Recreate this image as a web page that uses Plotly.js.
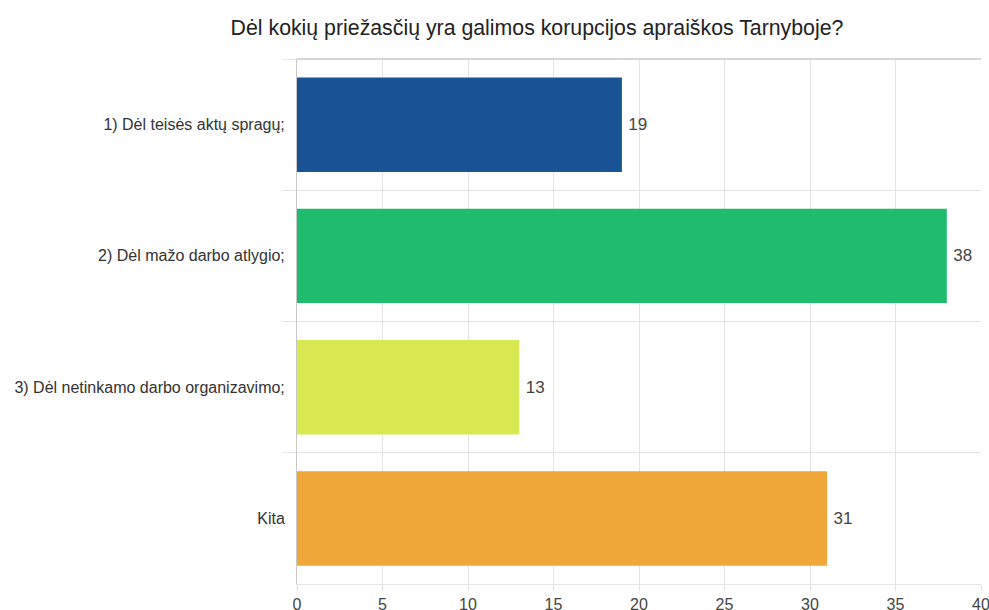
<!DOCTYPE html>
<html>
<head>
<meta charset="utf-8">
<script src="https://cdn.plot.ly/plotly-3.0.1.min.js"></script>
<style>html,body{margin:0;padding:0;background:#fff;}#chart{width:989px;height:610px;}</style>
</head>
<body>
<div id="chart"></div>
<script>
const chartTitle = "Dėl kokių priežasčių yra galimos korupcijos apraiškos Tarnyboje?";
const categories = [
  "1) Dėl teisės aktų spragų;",
  "2) Dėl mažo darbo atlygio;",
  "3) Dėl netinkamo darbo organizavimo;",
  "Kita"
];
const values = [19, 38, 13, 31];
const barColors = ["#1a5393", "#1fbb6f", "#d8e850", "#f0a73a"];
const xTicks = [0, 5, 10, 15, 20, 25, 30, 35, 40];

const FONT = "Arial, Liberation Sans, sans-serif";

const trace = {
  type: "bar",
  orientation: "h",
  y: categories,
  x: values,
  text: values.map(v => "\u2009" + v),
  textposition: "outside",
  cliponaxis: false,
  textfont: {family: FONT, size: 17, color: "#444"},
  marker: {color: barColors, line: {width: 0}},
  hoverinfo: "x+y"
};

const layout = {
  width: 989,
  height: 610,
  margin: {l: 297, r: 8, t: 59, b: 26},
  paper_bgcolor: "#fff",
  plot_bgcolor: "#fff",
  font: {family: FONT, color: "#333"},
  title: {
    text: chartTitle,
    font: {size: 21.3, color: "#222", family: FONT},
    x: 537/989, xanchor: "center", xref: "container",
    y: 1 - 28/610, yanchor: "middle", yref: "container"
  },
  bargap: 0.28,
  showlegend: false,
  xaxis: {
    range: [0, 40],
    tickvals: xTicks,
    ticktext: xTicks.map(String),
    showgrid: true,
    gridcolor: "#e4e4e4",
    gridwidth: 1,
    zeroline: false,
    showline: true,
    linecolor: "#e4e4e4",
    ticks: "outside",
    ticklen: 6,
    tickcolor: "#e4e4e4",
    ticklabeloverflow: "allow",
    tickfont: {size: 16, color: "#444"},
    fixedrange: true
  },
  yaxis: {
    type: "category",
    autorange: "reversed",
    tickson: "boundaries",
    showgrid: true,
    gridcolor: "#e4e4e4",
    gridwidth: 1,
    showline: true,
    linecolor: "#c8c8c8",
    mirror: false,
    ticks: "outside",
    ticklen: 14,
    tickcolor: "#e4e4e4",
    ticklabelstandoff: 8,
    tickfont: {size: 16, color: "#333"},
    fixedrange: true
  },
  shapes: [{
    type: "line", xref: "paper", yref: "paper",
    x0: 0, x1: 1, y0: 1, y1: 1,
    line: {color: "#d6d6d6", width: 2}
  }]
};

Plotly.newPlot("chart", [trace], layout, {displayModeBar: false, staticPlot: true});
</script>
</body>
</html>
